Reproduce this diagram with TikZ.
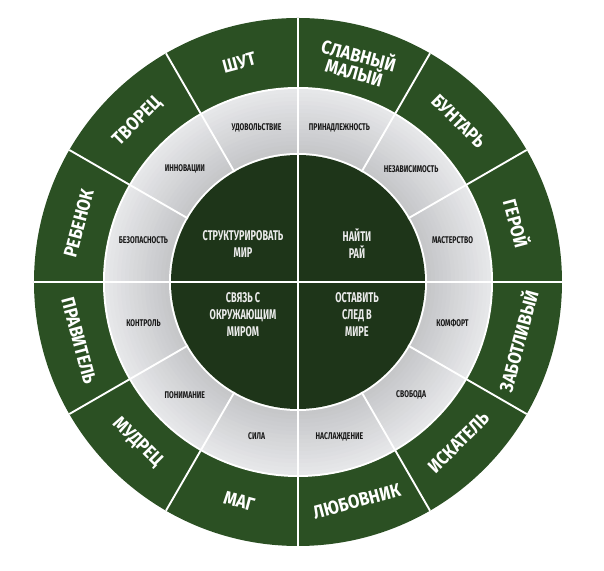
\documentclass[tikz,border=0pt]{standalone}
\usepackage{fontspec}
\newfontfamily\bandfont[FakeStretch=0.88]{Fira Sans}
\newfontfamily\ringfont[FakeStretch=0.7]{Fira Sans}
\newfontfamily\corefont[FakeStretch=0.65]{Fira Sans}
\definecolor{bandgreen}{HTML}{2B5023}
\definecolor{coregreen}{HTML}{1E3519}
\definecolor{ringdark}{HTML}{C2C3C6}
\definecolor{ringlight}{HTML}{E6E7E9}
\tikzset{
  bandlab/.style={text=white,align=center,inner sep=0pt,
    font=\bandfont\bfseries\fontsize{16}{15}\selectfont},
  ringlab/.style={text=black!90,inner sep=0pt,
    font=\ringfont\bfseries\fontsize{8.3}{8}\selectfont},
  corelab/.style={text=black!8,align=center,inner sep=0pt,
    font=\corefont\bfseries\fontsize{12}{14.5}\selectfont},
  divider/.style={white,line width=1.6pt}
}
\begin{document}
\begin{tikzpicture}[x=0.03cm,y=0.03cm]
  \useasboundingbox (-298,-289) rectangle (306,282);
  % rings
  \fill[bandgreen] (0,0) circle (264);
  \fill[white] (0,0) circle (195);
  \foreach \i in {0,...,16}
    \pgfmathsetmacro{\mix}{6*\i}
    \fill[ringdark!\mix!ringlight] (0,0) circle (193-4*\i);
  \fill[white] (0,0) circle (129);
  \fill[coregreen] (0,0) circle (127);
  % dividers
  \foreach \a in {30,60,...,330}
    \draw[divider] (\a:127) -- (\a:264);
  \draw[divider] (-264,0) -- (264,0);
  \draw[divider] (0,-264) -- (0,264);
  % outer band, upper half
  \foreach \a/\t/\n in {105/ШУТ/shut, 75/{СЛАВНЫЙ\\МАЛЫЙ}/malyj, 45/БУНТАРЬ/buntar,
      15/ГЕРОЙ/geroj, 165/РЕБЕНОК/rebenok, 135/ТВОРЕЦ/tvorec}
    \node[bandlab,rotate=\a-90] (\n) at (\a:227) {\t};
  % outer band, lower half
  \foreach \a/\t/\n in {-15/ЗАБОТЛИВЫЙ/zabotl, -45/ИСКАТЕЛЬ/iskatel, -75/ЛЮБОВНИК/lyubovnik,
      -105/МАГ/mag, -135/МУДРЕЦ/mudrec, -165/ПРАВИТЕЛЬ/pravitel}
    \node[bandlab,rotate=\a+90] (\n) at (\a:227) {\t};
  % grey ring
  \foreach \a/\t/\n in {105/УДОВОЛЬСТВИЕ/udov, 75/ПРИНАДЛЕЖНОСТЬ/prinadl, 45/НЕЗАВИСИМОСТЬ/nezav,
      15/МАСТЕРСТВО/master, -15/КОМФОРТ/komfort, -45/СВОБОДА/svoboda,
      -75/НАСЛАЖДЕНИЕ/naslazh, -105/СИЛА/sila, -135/ПОНИМАНИЕ/ponim,
      -165/КОНТРОЛЬ/kontrol, 165/БЕЗОПАСНОСТЬ/bezop, 135/ИННОВАЦИИ/innov}
    \node[ringlab] (\n) at (\a:160) {\t};
  % core
  \node[corelab] (struct) at (-55,38) {СТРУКТУРИРОВАТЬ\\МИР};
  \node[corelab] (raj) at (59,38) {НАЙТИ\\РАЙ};
  \node[corelab] (svyaz) at (-55,-33) {СВЯЗЬ С\\ОКРУЖАЮЩИМ\\МИРОМ};
  \node[corelab] (sled) at (59,-33) {ОСТАВИТЬ\\СЛЕД В\\МИРЕ};
\end{tikzpicture}
\end{document}
